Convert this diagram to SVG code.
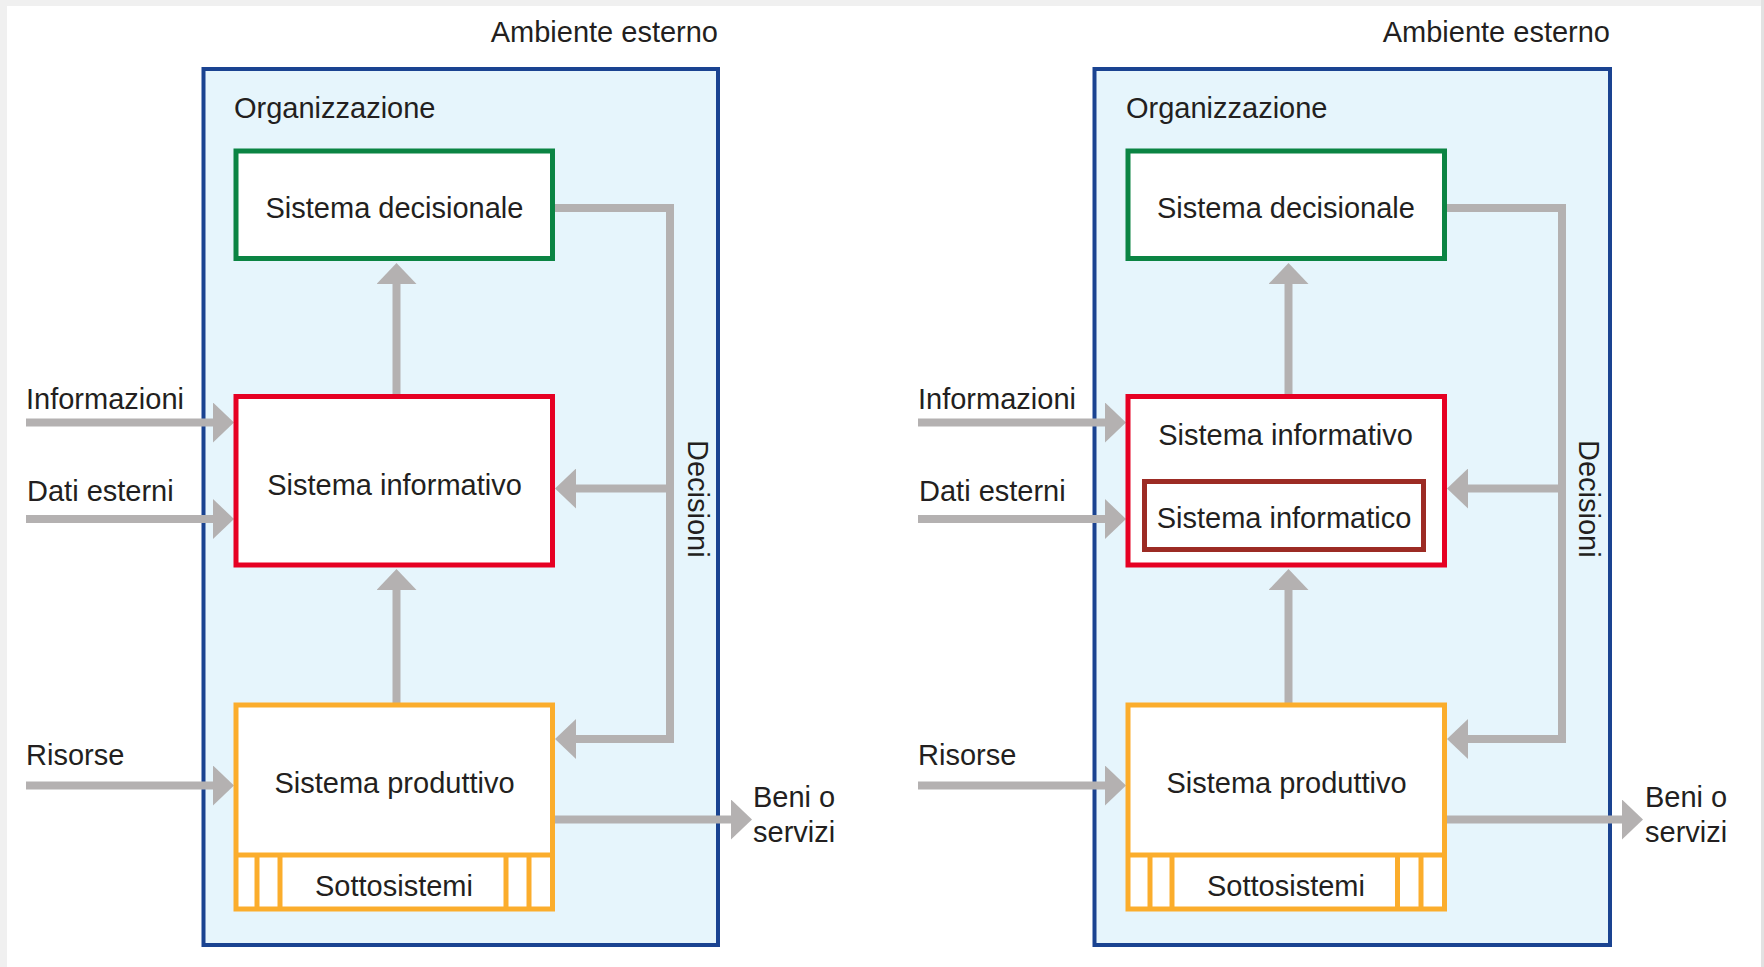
<svg xmlns="http://www.w3.org/2000/svg" width="1764" height="967" viewBox="0 0 1764 967">
<defs>
<style>
.org{fill:#e6f5fc;stroke:#1a4391;stroke-width:4}
.box{fill:#fff;stroke-width:5}
.dec{stroke:#0b8443}
.inf{stroke:#e60023}
.ifc{stroke:#9c2b24}
.prod{stroke:#fbad2c}
.sub{fill:none;stroke:#fbad2c;stroke-width:5}
.arr{fill:none;stroke:#b4b1b1;stroke-width:8;stroke-linejoin:miter}
text{font-family:"Liberation Sans",Arial,sans-serif;font-size:29px;fill:#231f20}
.c{text-anchor:middle}
</style>
<marker id="ah" viewBox="0 0 21 40" refX="1" refY="20" markerWidth="21" markerHeight="40" markerUnits="userSpaceOnUse" orient="auto">
<path d="M0,0 L21,20 L0,40 Z" fill="#b4b1b1"/>
</marker>
</defs>
<rect x="0" y="0" width="1764" height="967" fill="#f0f0f0"/>
<rect x="7" y="6" width="1754" height="961" fill="#ffffff"/>

<g id="left-panel">
  <g id="L-ambiente"><text x="718" y="42" text-anchor="end" font-size="31">Ambiente esterno</text></g>
  <g id="L-organizzazione"><rect class="org" x="203.5" y="69" width="514.5" height="876"/><text x="234" y="118" font-size="27">Organizzazione</text></g>
  <g id="L-connectors">
    <line class="arr" x1="26" y1="422.5" x2="214" y2="422.5" marker-end="url(#ah)"/>
    <line class="arr" x1="26" y1="519" x2="214" y2="519" marker-end="url(#ah)"/>
    <line class="arr" x1="26" y1="785.5" x2="214" y2="785.5" marker-end="url(#ah)"/>
    <line class="arr" x1="555" y1="819.5" x2="732" y2="819.5" marker-end="url(#ah)"/>
    <line class="arr" x1="396.5" y1="394" x2="396.5" y2="283" marker-end="url(#ah)"/>
    <line class="arr" x1="396.5" y1="703" x2="396.5" y2="589" marker-end="url(#ah)"/>
    <polyline class="arr" points="555,208 670,208 670,739 575,739" marker-end="url(#ah)"/>
    <line class="arr" x1="670" y1="488.5" x2="575" y2="488.5" marker-end="url(#ah)"/>
  </g>
  <g id="L-decisionale"><rect class="box dec" x="236" y="151" width="316.5" height="107.5"/><text class="c" x="394.5" y="218" font-size="28.5">Sistema decisionale</text></g>
  <g id="L-informativo"><rect class="box inf" x="236" y="396.5" width="316.5" height="168.5"/><text class="c" x="394.5" y="495" font-size="29.5">Sistema informativo</text></g>
  <g id="L-produttivo">
    <rect class="box prod" x="236" y="705" width="316.5" height="204"/>
    <line class="sub" x1="236" y1="855" x2="552.5" y2="855"/>
    <line class="sub" x1="257" y1="855" x2="257" y2="909"/>
    <line class="sub" x1="280" y1="855" x2="280" y2="909"/>
    <line class="sub" x1="506" y1="855" x2="506" y2="909"/>
    <line class="sub" x1="529" y1="855" x2="529" y2="909"/>
    <text class="c" x="394.5" y="793" font-size="27.5">Sistema produttivo</text>
    <text class="c" x="394" y="896" font-size="30">Sottosistemi</text>
  </g>
  <g id="L-labels">
    <text x="26" y="409" font-size="31">Informazioni</text>
    <text x="27" y="501" font-size="29.5">Dati esterni</text>
    <text x="26" y="765" font-size="26">Risorse</text>
    <text x="753" y="807" font-size="28.5">Beni o</text>
    <text x="753" y="842" font-size="28">servizi</text>
    <text x="688" y="440" transform="rotate(90 688 440)" font-size="30.5">Decisioni</text>
  </g>
</g>

<g id="right-panel" transform="translate(892,0)">
  <g id="R-ambiente"><text x="718" y="42" text-anchor="end" font-size="31">Ambiente esterno</text></g>
  <g id="R-organizzazione"><rect class="org" x="202.5" y="69" width="515.5" height="876"/><text x="234" y="118" font-size="27">Organizzazione</text></g>
  <g id="R-connectors">
    <line class="arr" x1="26" y1="422.5" x2="214" y2="422.5" marker-end="url(#ah)"/>
    <line class="arr" x1="26" y1="519" x2="214" y2="519" marker-end="url(#ah)"/>
    <line class="arr" x1="26" y1="785.5" x2="214" y2="785.5" marker-end="url(#ah)"/>
    <line class="arr" x1="555" y1="819.5" x2="731" y2="819.5" marker-end="url(#ah)"/>
    <line class="arr" x1="396.5" y1="394" x2="396.5" y2="283" marker-end="url(#ah)"/>
    <line class="arr" x1="396.5" y1="703" x2="396.5" y2="589" marker-end="url(#ah)"/>
    <polyline class="arr" points="555,208 670,208 670,739 575,739" marker-end="url(#ah)"/>
    <line class="arr" x1="670" y1="488.5" x2="575" y2="488.5" marker-end="url(#ah)"/>
  </g>
  <g id="R-decisionale"><rect class="box dec" x="236" y="151" width="316.5" height="107.5"/><text class="c" x="394" y="218" font-size="28.5">Sistema decisionale</text></g>
  <g id="R-informativo"><rect class="box inf" x="236" y="396.5" width="316.5" height="168.5"/><text class="c" x="393.5" y="445" font-size="29.5">Sistema informativo</text></g>
  <g id="R-informatico"><rect class="box ifc" x="252.5" y="481.5" width="279" height="68"/><text class="c" x="392" y="528" font-size="29.5">Sistema informatico</text></g>
  <g id="R-produttivo">
    <rect class="box prod" x="236" y="705" width="316.5" height="204"/>
    <line class="sub" x1="236" y1="855" x2="552.5" y2="855"/>
    <line class="sub" x1="258" y1="855" x2="258" y2="909"/>
    <line class="sub" x1="280" y1="855" x2="280" y2="909"/>
    <line class="sub" x1="505.5" y1="855" x2="505.5" y2="909"/>
    <line class="sub" x1="529" y1="855" x2="529" y2="909"/>
    <text class="c" x="394.5" y="793" font-size="27.5">Sistema produttivo</text>
    <text class="c" x="394" y="896" font-size="30">Sottosistemi</text>
  </g>
  <g id="R-labels">
    <text x="26" y="409" font-size="31">Informazioni</text>
    <text x="27" y="501" font-size="29.5">Dati esterni</text>
    <text x="26" y="765" font-size="26">Risorse</text>
    <text x="753" y="807" font-size="28.5">Beni o</text>
    <text x="753" y="842" font-size="28">servizi</text>
    <text x="687" y="440" transform="rotate(90 687 440)" font-size="30.5">Decisioni</text>
  </g>
</g>
<rect x="1761" y="0" width="3" height="967" fill="#e2e2e2"/>
</svg>
